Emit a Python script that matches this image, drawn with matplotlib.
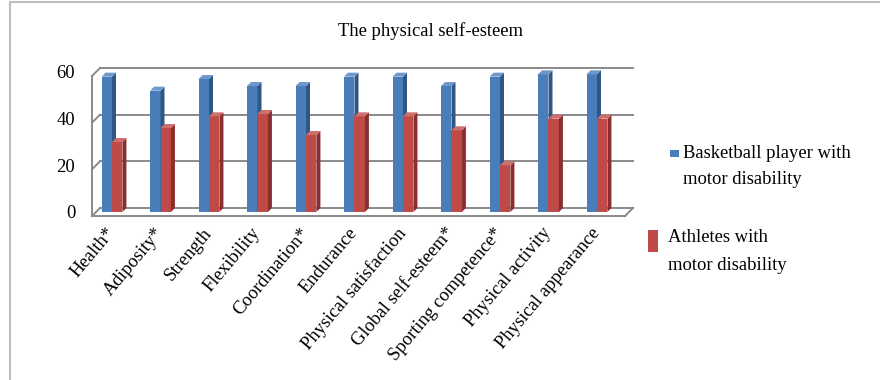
import matplotlib
matplotlib.use("Agg")
import matplotlib.pyplot as plt
from matplotlib.patches import Rectangle, Polygon

categories = ["Health*", "Adiposity*", "Strength", "Flexibility", "Coordination*",
              "Endurance", "Physical satisfaction", "Global self-esteem*",
              "Sporting competence*", "Physical activity", "Physical appearance"]
basketball = [58, 52, 57, 54, 54, 58, 58, 54, 58, 59, 59]
athletes = [30, 36, 41, 42, 33, 41, 41, 35, 20, 40, 40]
series_names = ["Basketball player with\nmotor disability", "Athletes with\nmotor disability"]
yticks = [0, 20, 40, 60]
title = "The physical self-esteem"

plt.rcParams['font.family'] = ['Liberation Serif', 'DejaVu Serif']
FS = 13.4

W, H = 880, 380
fig = plt.figure(figsize=(W / 100, H / 100), dpi=100)
fig.patch.set_facecolor('white')

# outer chart border
fig.patches.append(Rectangle((10 / W, -0.2), 1.5, 1.2 - 2 / H, transform=fig.transFigure,
                             fill=False, edgecolor='#bdbdbd', lw=1.5))

ax_l, ax_b, ax_w, ax_h = 96, 212, 533, 140  # pixels (left, bottom in image coords)
ax = fig.add_axes([ax_l / W, 1 - ax_b / H, ax_w / W, ax_h / H])
xl0, xl1 = -0.33, 10.66
ax.set_xlim(xl0, xl1)
ax.set_ylim(0, 60)
for s in ax.spines.values():
    s.set_visible(False)
ax.set_facecolor('none')

px_x = ax_w / (xl1 - xl0)
px_y = ax_h / 60.0
dx = 4 / px_x
dy = 4 / px_y

gcol = '#8a8a8a'
glw = 1.4
# back wall gridlines and left wall slants
for v in yticks:
    ax.plot([xl0 + dx, xl1 + dx], [v + dy, v + dy], color=gcol, lw=glw, clip_on=False, zorder=1)
    ax.plot([xl0 - dx, xl0 + dx], [v - dy, v + dy], color=gcol, lw=glw, clip_on=False, zorder=1)
# left wall front edge
ax.plot([xl0 - dx, xl0 - dx], [-dy, 60 - dy], color=gcol, lw=glw, clip_on=False, zorder=1)
# floor front edge and right slant
ax.plot([xl0 - dx, xl1 - dx], [-dy, -dy], color=gcol, lw=glw, clip_on=False, zorder=1)
ax.plot([xl1 - dx, xl1 + dx], [-dy, dy], color=gcol, lw=glw, clip_on=False, zorder=1)

bw = 0.215
colors = [('#4a7ebb', '#2e5687', '#6f98cc'), ('#be4b48', '#8a2f2d', '#cf6f6c')]
z = 3
for k, (vals, (cf, cs, ct)) in enumerate(zip([basketball, athletes], colors)):
    xs = [i - bw / 2 if k == 0 else i + bw / 2 for i in range(len(vals))]
    bars = ax.bar(xs, vals, width=bw, color=cf, edgecolor='none', zorder=z, clip_on=False)
    for b in bars:
        x0 = b.get_x()
        x1 = x0 + b.get_width()
        h = b.get_height()
        side = Polygon([(x1, 0), (x1, h), (x1 + dx, h + dy), (x1 + dx, dy)], closed=True,
                       facecolor=cs, edgecolor='none', zorder=z, clip_on=False)
        top = Polygon([(x0, h), (x1, h), (x1 + dx, h + dy), (x0 + dx, h + dy)], closed=True,
                      facecolor=ct, edgecolor='none', zorder=z, clip_on=False)
        ax.add_patch(side)
        ax.add_patch(top)
    z += 1

ax.set_yticks(yticks)
ax.set_yticklabels([str(v) for v in yticks], fontsize=FS)
ax.set_xticks(range(len(categories)))
ax.set_xticklabels(categories, fontsize=FS, rotation=50, ha='right', va='center',
                   rotation_mode='anchor')
ax.tick_params(axis='y', length=0, pad=15)
ax.tick_params(axis='x', length=0, pad=13)

fig.text(430 / W, 1 - 31 / H, title, ha='center', va='center', fontsize=FS)

# legend drawn in figure pixels
fig.patches.append(Rectangle((670 / W, 1 - 157 / H), 9 / W, 7 / H, transform=fig.transFigure,
                             facecolor=colors[0][0], edgecolor='none'))
l1 = series_names[0].split('\n')
fig.text(683 / W, 1 - 153 / H, l1[0], ha='left', va='center', fontsize=FS)
fig.text(683 / W, 1 - 180 / H, l1[1], ha='left', va='center', fontsize=FS)
fig.patches.append(Rectangle((648 / W, 1 - 252 / H), 10 / W, 22 / H, transform=fig.transFigure,
                             facecolor=colors[1][0], edgecolor='none'))
l2 = series_names[1].split('\n')
fig.text(668 / W, 1 - 238 / H, l2[0], ha='left', va='center', fontsize=FS)
fig.text(668 / W, 1 - 265 / H, l2[1], ha='left', va='center', fontsize=FS)

fig.savefig('out.png', dpi=100)
